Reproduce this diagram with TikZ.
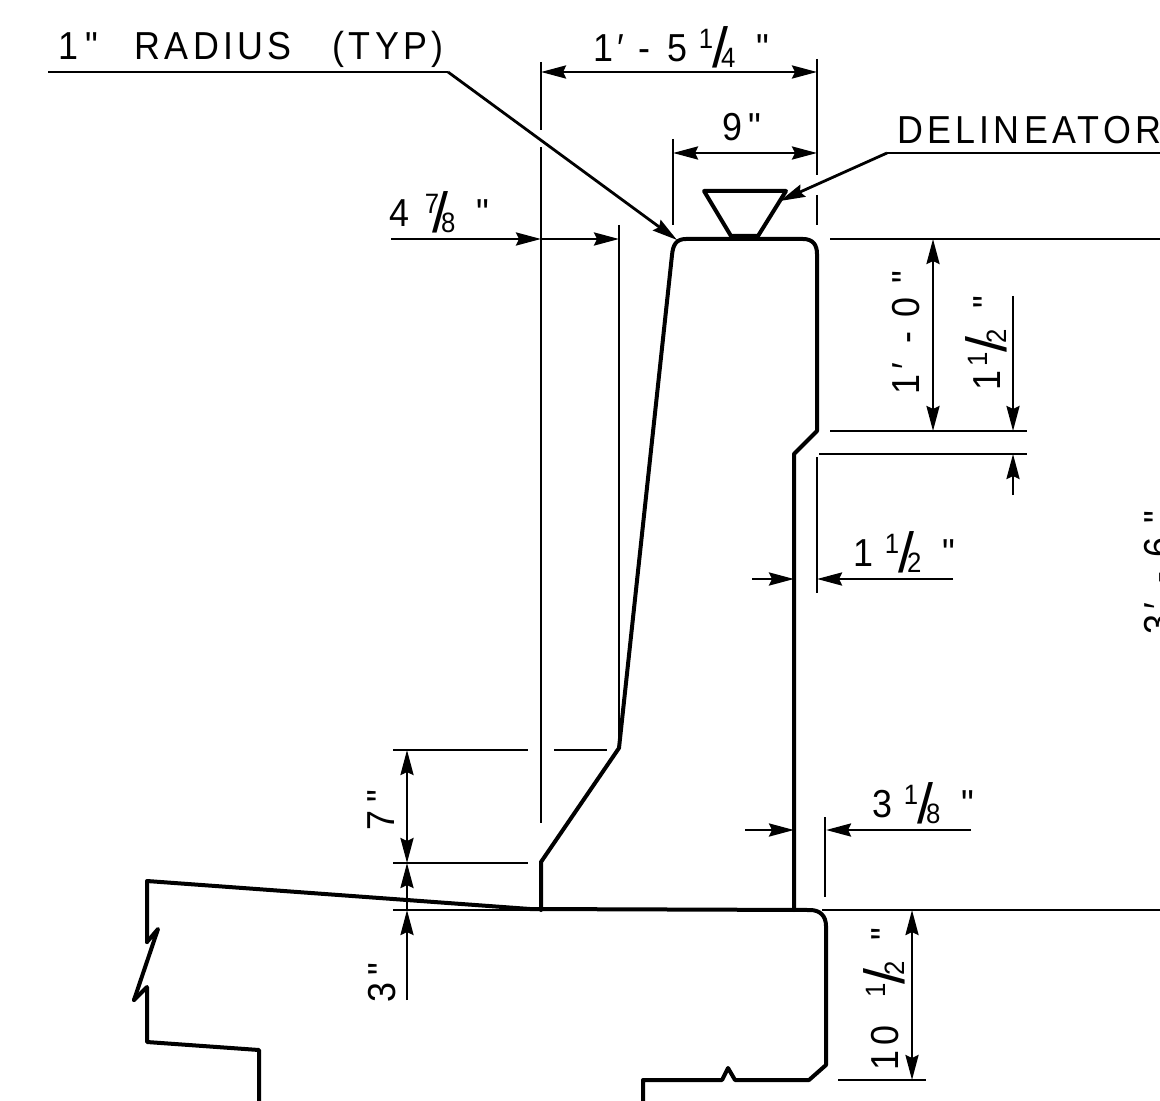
\documentclass[tikz,border=0pt]{standalone}
\usepackage{fontspec}
\usepackage{graphicx}
\usetikzlibrary{arrows.meta}
\setmainfont{Liberation Sans}[FakeStretch=0.92,Ligatures=TeXOff]
\newcommand{\cadfont}{\fontsize{19.5pt}{22pt}\selectfont\addfontfeature{LetterSpace=11}}
\newcommand{\frc}[2]{\mbox{\raisebox{6.5pt}{\fontsize{14pt}{16pt}\selectfont #1}\kern-3.5pt\raisebox{-3pt}{\scalebox{1.6}[1.45]{/}}\kern-3.5pt\raisebox{-3pt}{\fontsize{14pt}{16pt}\selectfont #2}}\kern10.5pt}
\newcommand{\numone}{\kern-3pt 1\kern3pt}
\tikzset{
  outline/.style={line width=2pt,line join=round,line cap=round},
  thin line/.style={line width=1.4pt},
  dim/.style={thin line,{Stealth[length=12.5pt,width=6.5pt,inset=1.5pt]}-{Stealth[length=12.5pt,width=6.5pt,inset=1.5pt]}},
  dimto/.style={thin line,-{Stealth[length=12.5pt,width=6.5pt,inset=1.5pt]}},
  cad/.style={anchor=base west,inner sep=0pt,outer sep=0pt,font=\cadfont},
  cadv/.style={cad,rotate=90}
}
\begin{document}
\begin{tikzpicture}[x=0.5pt,y=-0.5pt]
\clip (0,0) rectangle (1160,1101);
\fill[white] (0,0) rectangle (1160,1101);
% barrier outline
\draw[outline] (541,910) -- (541,862) -- (619,748) -- (672,255)
  .. controls (673,245) and (676,239) .. (686,239) -- (803,239)
  .. controls (813,239) and (817,245) .. (817,254) -- (817,431) -- (794,454) -- (794,910);
% deck
\draw[outline] (134,1000) -- (147,987) -- (147,1042) -- (259,1050) -- (259,1101);
\draw[outline] (147,942) -- (158,929) -- (134,1000);
\draw[outline] (147,942) -- (147,881) -- (530,909) -- (810,910)
  .. controls (820,910) and (826,916) .. (826,926) -- (826,1065) -- (809,1080) -- (735,1080)
  -- (728,1068) -- (722,1080) -- (643,1080) -- (643,1101);
% delineator
\draw[outline] (704,191) -- (786,191) -- (758,236) -- (731,236) -- cycle;
\draw[outline] (731,238) -- (758,238);
% extension lines
\draw[thin line] (541,62) -- (541,130) (541,147) -- (541,823);
\draw[thin line] (817,59) -- (817,175) (817,195) -- (817,225);
\draw[thin line] (673,139) -- (673,225);
\draw[thin line] (619,225) -- (619,745);
\draw[thin line] (830,239) -- (1160,239);
\draw[thin line] (830,431) -- (1027,431) (819,454) -- (1027,454);
\draw[thin line] (817,457) -- (817,593);
\draw[thin line] (393,750) -- (528,750) (554,750) -- (607,750);
\draw[thin line] (393,863) -- (528,863);
\draw[thin line] (393,910) -- (530,910);
\draw[thin line] (825,817) -- (825,897);
\draw[thin line] (822,910) -- (1160,910);
\draw[thin line] (838,1080) -- (926,1080);
% leaders
\draw[thin line] (48,72) -- (448,72);
\draw[dimto] (448,72) -- (677,240);
\draw[thin line] (1160,153) -- (887,153);
\draw[dimto] (887,153) -- (780,201);
% dimensions
\draw[dim] (541,72) -- (817,72);
\draw[dim] (673,153) -- (817,153);
\draw[dimto] (391,239) -- (541,239);
\draw[dimto] (541,239) -- (619,239);
\draw[dim] (933,239) -- (933,431);
\draw[dimto] (1013,296) -- (1013,431);
\draw[dimto] (1013,495) -- (1013,454);
\draw[dimto] (752,579) -- (794,579);
\draw[dimto] (953,579) -- (817,579);
\draw[dim] (407,750) -- (407,863);
\draw[dimto] (407,910) -- (407,863);
\draw[dimto] (407,1000) -- (407,910);
\draw[dimto] (745,830) -- (794,830);
\draw[dimto] (971,830) -- (826,830);
\draw[dim] (912,910) -- (912,1080);
% labels
\node[cad] (radius) at (58,60) {1\kern4pt"\kern18pt RADIUS\kern20.5pt (TYP)};
\node[cad] (overall) at (593,62) {1′\kern7.5pt-\kern8.5pt 5\kern8.5pt\frc{\numone}{4}"};
\node[cad] (nine) at (722,141) {9\kern3.5pt"};
\node[cad] (delin) at (897,144) {DELINEATOR};
\node[cad] (batter) at (389,227) {4\kern8pt\frc{7}{8}"};
\node[cad] (reveal) at (853,566) {1\kern9pt\frc{\numone}{2}"};
\node[cad] (toe) at (872,817) {3\kern9pt\frc{\numone}{8}"};
\node[cadv] (upper) at (919,394) {1′\kern10pt-\kern7pt 0\kern7pt"};
\node[cadv] (chamfer) at (1000,390) {1\kern5pt\frc{\numone}{2}"};
\node[cadv] (height) at (1171,634) {3′\kern10pt-\kern7pt 6\kern7pt"};
\node[cadv] (seven) at (394,830) {7\kern4pt"};
\node[cadv] (three) at (395,1002) {3\kern3.5pt"};
\node[cadv] (slab) at (898,1070) {10\kern17pt\frc{\numone}{2}"};
\end{tikzpicture}
\end{document}
